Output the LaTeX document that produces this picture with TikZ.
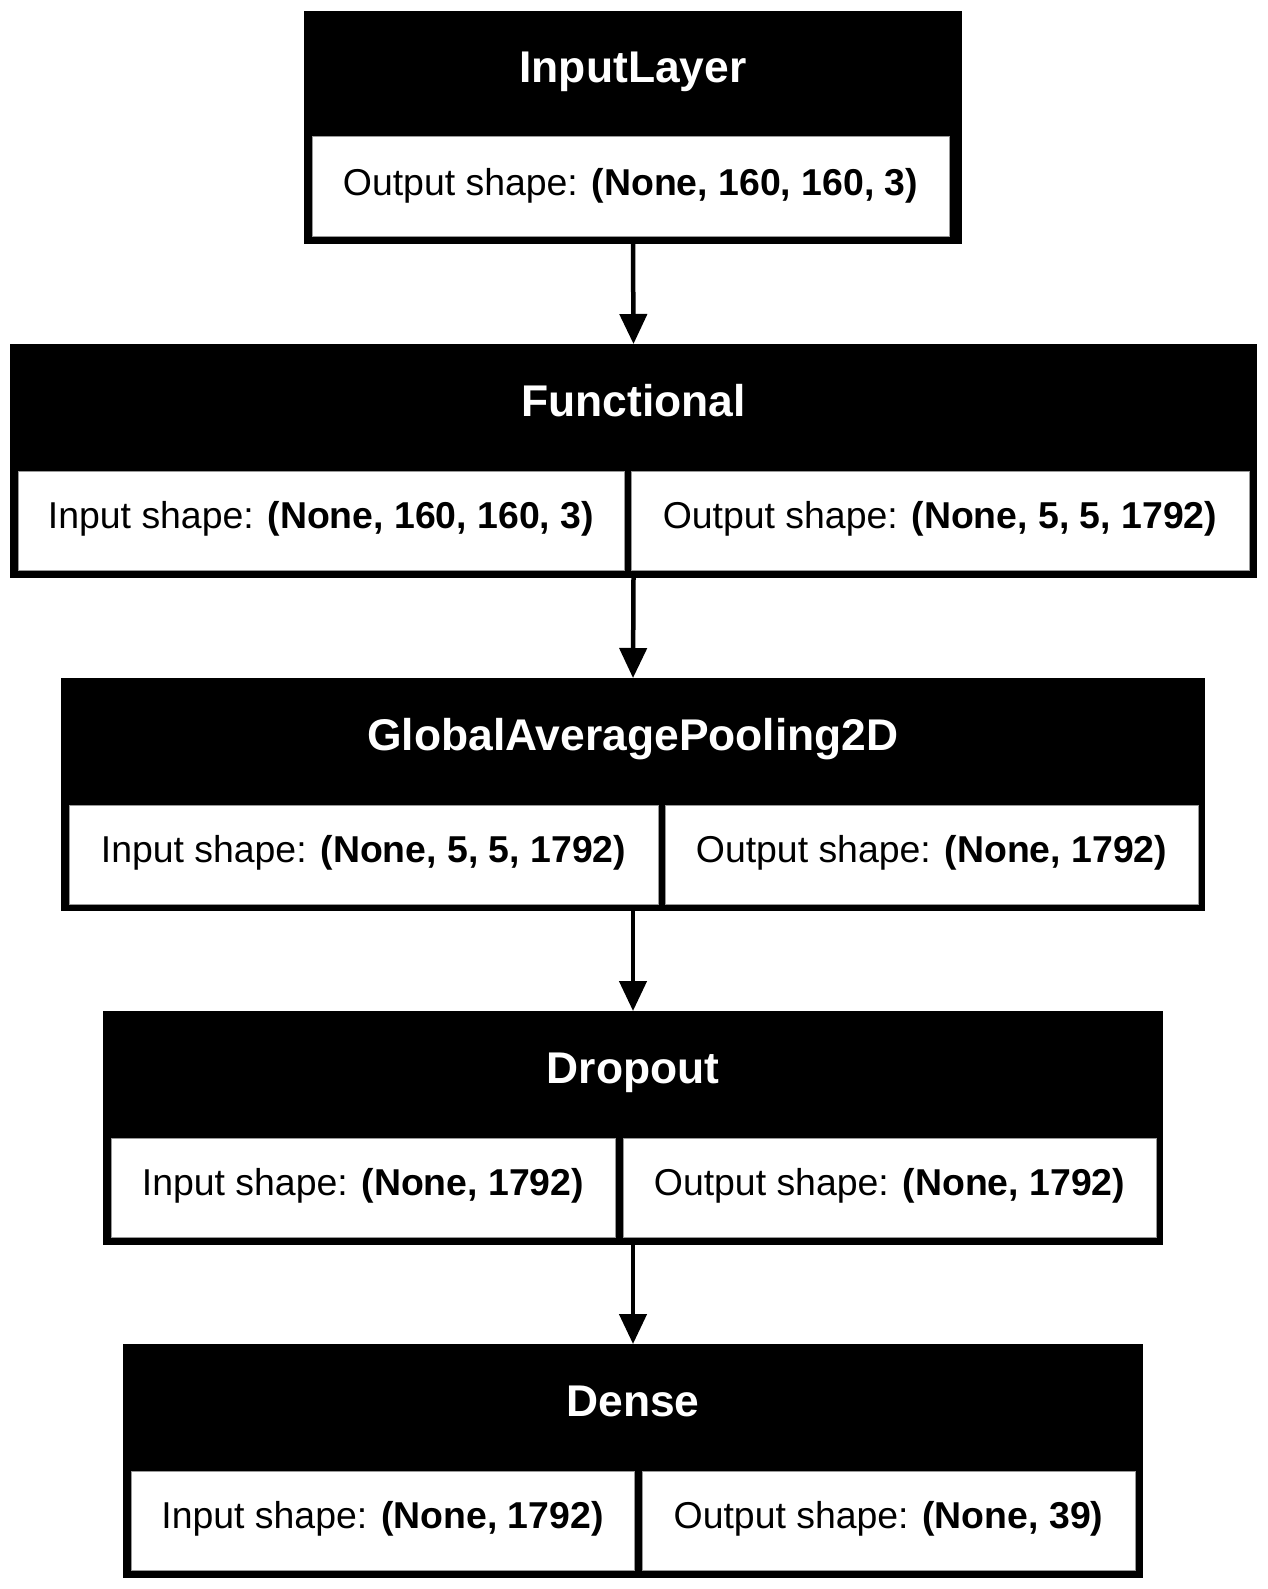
\documentclass[tikz,border=0pt]{standalone}
\usepackage{fontspec}
\setmainfont{Liberation Sans}
\usetikzlibrary{arrows.meta}
\begin{document}
\begin{tikzpicture}[x=1pt,y=-1pt,
  layerbox/.style={rectangle, fill=black, inner sep=0pt, outer sep=0pt},
  cellbox/.style={rectangle, fill=white, draw=black!40, line width=1pt, inner sep=0pt, outer sep=0pt,
    font=\fontsize{37.4}{44}\selectfont, text height=27.7pt, text depth=11pt},
  headtext/.style={text=white, font=\fontsize{44.4}{50}\selectfont\bfseries, anchor=base, inner sep=0pt},
  flow/.style={line width=4.5pt, -{Triangle[length=30pt,width=27pt]}}
]
\useasboundingbox (0,0) rectangle (1267,1589);

% InputLayer
\node[layerbox, minimum width=658pt, minimum height=233pt] (in) at (633,127.5) {};
\node[headtext] (inh) at (633,83) {InputLayer};
\node[cellbox, minimum width=637pt, minimum height=100pt] (ino) at (630.5,187) {Output shape: \textbf{(None, 160, 160, 3)}};

% Functional
\node[layerbox, minimum width=1247pt, minimum height=234pt] (fn) at (633.5,461) {};
\node[headtext] (fnh) at (633.5,416) {Functional};
\node[cellbox, minimum width=606pt, minimum height=99pt] (fni) at (321,520.5) {Input shape: \textbf{(None, 160, 160, 3)}};
\node[cellbox, minimum width=618pt, minimum height=99pt] (fno) at (940,520.5) {Output shape: \textbf{(None, 5, 5, 1792)}};

% GlobalAveragePooling2D
\node[layerbox, minimum width=1144pt, minimum height=233pt] (gap) at (633,794.5) {};
\node[headtext] (gaph) at (633,750) {GlobalAveragePooling2D};
\node[cellbox, minimum width=589pt, minimum height=99pt] (gapi) at (363.5,854.5) {Input shape: \textbf{(None, 5, 5, 1792)}};
\node[cellbox, minimum width=533pt, minimum height=99pt] (gapo) at (931.5,854.5) {Output shape: \textbf{(None, 1792)}};

% Dropout
\node[layerbox, minimum width=1060pt, minimum height=234pt] (dr) at (633,1128) {};
\node[headtext] (drh) at (633,1083) {Dropout};
\node[cellbox, minimum width=504pt, minimum height=99pt] (dri) at (363,1187.5) {Input shape: \textbf{(None, 1792)}};
\node[cellbox, minimum width=533pt, minimum height=99pt] (dro) at (889.5,1187.5) {Output shape: \textbf{(None, 1792)}};

% Dense
\node[layerbox, minimum width=1020pt, minimum height=234pt] (de) at (633,1461) {};
\node[headtext] (deh) at (633,1416) {Dense};
\node[cellbox, minimum width=503pt, minimum height=99pt] (dei) at (382.5,1520.5) {Input shape: \textbf{(None, 1792)}};
\node[cellbox, minimum width=493pt, minimum height=99pt] (deo) at (888.5,1520.5) {Output shape: \textbf{(None, 39)}};

% connectors
\draw[flow] (in.south) -- (fn.north);
\draw[flow] (fn.south) -- (gap.north);
\draw[flow] (gap.south) -- (dr.north);
\draw[flow] (dr.south) -- (de.north);
\end{tikzpicture}
\end{document}
